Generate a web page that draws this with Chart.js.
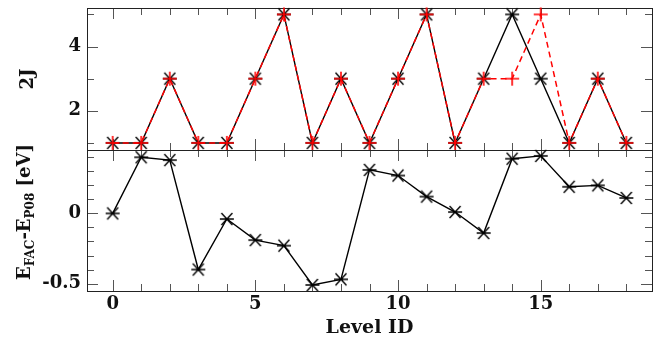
<!DOCTYPE html>
<html>
<head>
<meta charset="utf-8">
<script src="https://cdn.jsdelivr.net/npm/chart.js@4/dist/chart.umd.min.js"></script>
<style>
  body { margin: 0; width: 666px; height: 342px; overflow: hidden; background: #fff; position: relative; }
  canvas { position: absolute; left: 0; }
  #topChart { top: -20px; }
  #botChart { top: 130px; }
  .ytitle {
    position: absolute; white-space: nowrap; color: #111;
    font-family: 'DejaVu Serif', serif; font-size: 18px; font-weight: bold;
    transform: translate(-50%, -50%) rotate(-90deg);
  }
  .ytitle sub { font-size: 12px; vertical-align: -4px; }
</style>
</head>
<body>
<canvas id="topChart" width="666" height="190"></canvas>
<canvas id="botChart" width="666" height="212"></canvas>
<div class="ytitle" style="left:26px; top:79px;">2J</div>
<div class="ytitle" style="left:25px; top:212px;">E<sub>FAC</sub>-E<sub>P08</sub> [eV]</div>
<script>
// level index on the x axis
const levelIds = [0, 1, 2, 3, 4, 5, 6, 7, 8, 9, 10, 11, 12, 13, 14, 15, 16, 17, 18];
// 2J values, black (FAC) and red dashed (P08)
const twoJFac = [1, 1, 3, 1, 1, 3, 5, 1, 3, 1, 3, 5, 1, 3, 5, 3, 1, 3, 1];
const twoJP08 = [1, 1, 3, 1, 1, 3, 5, 1, 3, 1, 3, 5, 1, 3, 3, 5, 1, 3, 1];
// energy difference in eV
const energyDiff = [0, 0.40, 0.38, -0.40, -0.04, -0.19, -0.23, -0.51, -0.47, 0.31,
  0.27, 0.12, 0.01, -0.14, 0.39, 0.41, 0.19, 0.20, 0.11];

// tick labels and tick marks
const xTickLabels = [0, 5, 10, 15];
const twoJTickLabels = [2, 4];
const diffTickLabels = [-0.5, 0];
const twoJTickMarks = [1, 2, 3, 4, 5];
const diffTickMarks = [-0.5, -0.4, -0.3, -0.2, -0.1, 0, 0.1, 0.2, 0.3, 0.4];

const tickFont = { family: 'DejaVu Serif', size: 18, weight: 'bold' };

// marker images
const makeStar = () => {
  const c = document.createElement('canvas');
  c.width = 16; c.height = 16;
  const g = c.getContext('2d');
  g.strokeStyle = '#000'; g.lineWidth = 1.4;
  g.beginPath();
  g.moveTo(2.5, 2); g.lineTo(13.5, 14);
  g.moveTo(2.5, 14); g.lineTo(13.5, 2);
  g.moveTo(1, 8); g.lineTo(15, 8);
  g.stroke();
  return c;
};
const makePlus = () => {
  const c = document.createElement('canvas');
  c.width = 16; c.height = 16;
  const g = c.getContext('2d');
  g.strokeStyle = '#f00'; g.lineWidth = 1.6;
  g.beginPath();
  g.moveTo(1, 8); g.lineTo(15, 8);
  g.moveTo(8, 1); g.lineTo(8, 15);
  g.stroke();
  return c;
};
const starImg = makeStar();
const plusImg = makePlus();

// frame + inward ticks on all four sides
const framePlugin = {
  id: 'frame',
  beforeDatasetsDraw(chart, args, opts) {
    const { ctx, chartArea: a } = chart;
    const x = chart.scales.x, y = chart.scales.y;
    ctx.save();
    ctx.strokeStyle = '#555';
    ctx.lineWidth = 1;
    ctx.beginPath();
    levelIds.forEach(v => {
      const px = Math.round(x.getPixelForValue(v)) + 0.5;
      const len = xTickLabels.includes(v) ? 11 : 7;
      ctx.moveTo(px, a.top); ctx.lineTo(px, a.top + len);
      ctx.moveTo(px, a.bottom); ctx.lineTo(px, a.bottom - len);
    });
    opts.yTicks.forEach(v => {
      const py = Math.round(y.getPixelForValue(v)) + 0.5;
      const len = opts.yMajor.includes(v) ? 11 : 7;
      ctx.moveTo(a.left, py); ctx.lineTo(a.left + len, py);
      ctx.moveTo(a.right, py); ctx.lineTo(a.right - len, py);
    });
    ctx.stroke();
    ctx.strokeStyle = '#222';
    ctx.strokeRect(Math.round(a.left) + 0.5, Math.round(a.top) + 0.5,
      Math.round(a.right - a.left), Math.round(a.bottom - a.top));
    ctx.restore();
  }
};

const yAxis = (min, max, labels) => ({
  type: 'linear', min: min, max: max,
  grid: { display: false, drawTicks: false },
  border: { display: false },
  afterFit: s => { s.width = 87; },
  afterBuildTicks: s => { s.ticks = labels.map(v => ({ value: v })); },
  ticks: { padding: 6, color: '#111', font: tickFont, callback: v => String(v) }
});

new Chart(document.getElementById('topChart'), {
  type: 'line',
  data: {
    datasets: [
      {
        data: levelIds.map((x, i) => ({ x: x, y: twoJP08[i] })),
        borderColor: '#f00', borderWidth: 1.5, borderDash: [6, 4],
        pointStyle: plusImg, pointRadius: 7, clip: false
      },
      {
        data: levelIds.map((x, i) => ({ x: x, y: twoJFac[i] })),
        borderColor: '#000', borderWidth: 1.4,
        pointStyle: starImg, pointRadius: 7, clip: false
      }
    ]
  },
  options: {
    responsive: false, animation: false, events: [],
    layout: { padding: { left: 0, right: 14, top: 28, bottom: 20 } },
    plugins: {
      legend: { display: false }, tooltip: { enabled: false },
      frame: { yTicks: twoJTickMarks, yMajor: twoJTickLabels }
    },
    scales: {
      x: { type: 'linear', min: -0.9, max: 18.9, display: false },
      y: yAxis(0.78, 5.2, twoJTickLabels)
    }
  },
  plugins: [framePlugin]
});

new Chart(document.getElementById('botChart'), {
  type: 'line',
  data: {
    datasets: [
      {
        data: levelIds.map((x, i) => ({ x: x, y: energyDiff[i] })),
        borderColor: '#000', borderWidth: 1.4,
        pointStyle: starImg, pointRadius: 7, clip: false
      }
    ]
  },
  options: {
    responsive: false, animation: false, events: [],
    layout: { padding: { left: 0, right: 14, top: 20, bottom: 0 } },
    plugins: {
      legend: { display: false }, tooltip: { enabled: false },
      frame: { yTicks: diffTickMarks, yMajor: diffTickLabels }
    },
    scales: {
      x: {
        type: 'linear', min: -0.9, max: 18.9,
        grid: { display: false, drawTicks: false },
        border: { display: false },
        afterFit: s => { s.height = 51; },
        afterBuildTicks: s => { s.ticks = xTickLabels.map(v => ({ value: v })); },
        ticks: { padding: 3, maxRotation: 0, autoSkip: false, color: '#111', font: tickFont },
        title: {
          display: true, text: 'Level ID', color: '#111',
          font: { family: 'DejaVu Serif', size: 19, weight: 'bold' },
          padding: { top: 0, bottom: 3 }
        }
      },
      y: yAxis(-0.553, 0.452, diffTickLabels)
    }
  },
  plugins: [framePlugin]
});
</script>
</body>
</html>
